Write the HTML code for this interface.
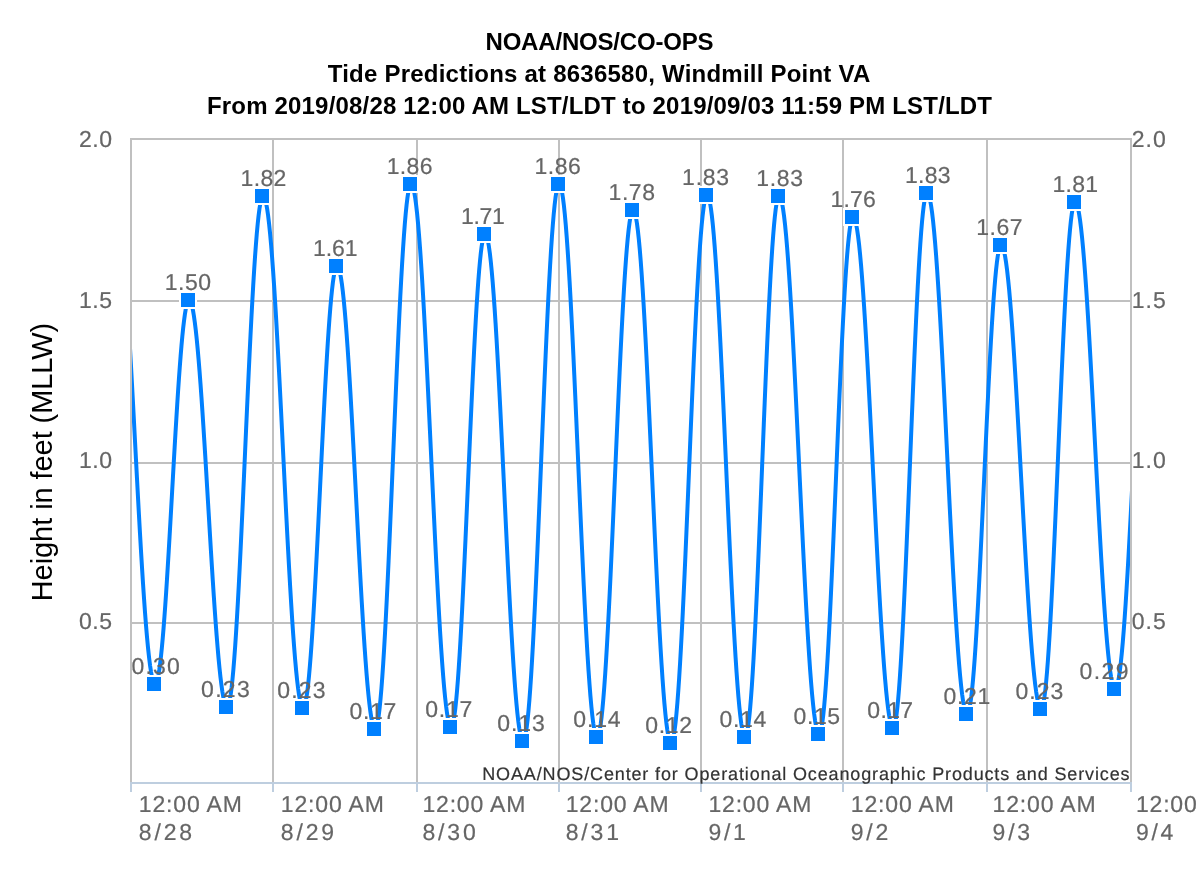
<!DOCTYPE html>
<html><head><meta charset="utf-8"><title>Tide Predictions</title>
<style>html,body{margin:0;padding:0;background:#fff;overflow:hidden;}svg{display:block;} svg{will-change:transform;}</style>
</head><body>
<svg width="1200" height="874" viewBox="0 0 1200 874">
<defs><clipPath id="pc"><rect x="132" y="100" width="998" height="700"/></clipPath></defs>
<rect width="1200" height="874" fill="#fff"/>
<rect x="130" y="138" width="1002" height="2" fill="#c0c0c0"/>
<rect x="130" y="300" width="1002" height="2" fill="#c0c0c0"/>
<rect x="130" y="462" width="1002" height="2" fill="#c0c0c0"/>
<rect x="130" y="622" width="1002" height="2" fill="#c0c0c0"/>
<rect x="130" y="138" width="2" height="644" fill="#c0c0c0"/>
<rect x="272" y="138" width="2" height="644" fill="#c0c0c0"/>
<rect x="416" y="138" width="2" height="644" fill="#c0c0c0"/>
<rect x="558" y="138" width="2" height="644" fill="#c0c0c0"/>
<rect x="700" y="138" width="2" height="644" fill="#c0c0c0"/>
<rect x="842" y="138" width="2" height="644" fill="#c0c0c0"/>
<rect x="986" y="138" width="2" height="644" fill="#c0c0c0"/>
<rect x="1130" y="138" width="2" height="644" fill="#c0c0c0"/>
<rect x="130" y="782" width="1002" height="2" fill="#becedf"/>
<rect x="130" y="782" width="2" height="10" fill="#becedf"/>
<rect x="272" y="782" width="2" height="10" fill="#becedf"/>
<rect x="416" y="782" width="2" height="10" fill="#becedf"/>
<rect x="558" y="782" width="2" height="10" fill="#becedf"/>
<rect x="700" y="782" width="2" height="10" fill="#becedf"/>
<rect x="842" y="782" width="2" height="10" fill="#becedf"/>
<rect x="986" y="782" width="2" height="10" fill="#becedf"/>
<rect x="1130" y="782" width="2" height="10" fill="#becedf"/>
<g font-family="Liberation Sans, sans-serif" font-weight="bold" font-size="24" fill="#000" text-anchor="middle">
<text x="599.5" y="50" textLength="228" lengthAdjust="spacing">NOAA/NOS/CO-OPS</text>
<text x="599" y="82" textLength="542.5" lengthAdjust="spacing">Tide Predictions at 8636580, Windmill Point VA</text>
<text x="599.5" y="114" textLength="785" lengthAdjust="spacing">From 2019/08/28 12:00 AM LST/LDT to 2019/09/03 11:59 PM LST/LDT</text>
</g>
<text x="0" y="0" transform="translate(52,462) rotate(-90)" font-family="Liberation Sans, sans-serif" font-size="29" fill="#000" text-anchor="middle" textLength="278.5" lengthAdjust="spacing">Height in feet (MLLW)</text>
<g font-family="Liberation Sans, sans-serif" font-size="23" fill="#666666" stroke="#666666" stroke-width="0.2" text-rendering="geometricPrecision">
<text x="112" y="147" text-anchor="end" textLength="33" lengthAdjust="spacing">2.0</text>
<text x="1131.8" y="147" textLength="34" lengthAdjust="spacing">2.0</text>
<text x="112" y="308" text-anchor="end" textLength="33" lengthAdjust="spacing">1.5</text>
<text x="1131.8" y="308" textLength="34" lengthAdjust="spacing">1.5</text>
<text x="112" y="468" text-anchor="end" textLength="33" lengthAdjust="spacing">1.0</text>
<text x="1131.8" y="468" textLength="34" lengthAdjust="spacing">1.0</text>
<text x="112" y="629" text-anchor="end" textLength="33" lengthAdjust="spacing">0.5</text>
<text x="1131.8" y="629" textLength="34" lengthAdjust="spacing">0.5</text>
</g>
<g font-family="Liberation Sans, sans-serif" font-size="23" fill="#666666" stroke="#666666" stroke-width="0.2" text-rendering="geometricPrecision">
<text x="138.8" y="812" textLength="103" lengthAdjust="spacing">12:00 AM</text>
<text x="138.8" y="840" textLength="53.3" lengthAdjust="spacing">8/28</text>
<text x="280.8" y="812" textLength="103" lengthAdjust="spacing">12:00 AM</text>
<text x="280.8" y="840" textLength="53.3" lengthAdjust="spacing">8/29</text>
<text x="422.4" y="812" textLength="103" lengthAdjust="spacing">12:00 AM</text>
<text x="422.4" y="840" textLength="53.3" lengthAdjust="spacing">8/30</text>
<text x="565.7" y="812" textLength="103" lengthAdjust="spacing">12:00 AM</text>
<text x="565.7" y="840" textLength="53.3" lengthAdjust="spacing">8/31</text>
<text x="708.4" y="812" textLength="103" lengthAdjust="spacing">12:00 AM</text>
<text x="708.4" y="840" textLength="37.5" lengthAdjust="spacing">9/1</text>
<text x="850.8" y="812" textLength="103" lengthAdjust="spacing">12:00 AM</text>
<text x="850.8" y="840" textLength="37.5" lengthAdjust="spacing">9/2</text>
<text x="992.6" y="812" textLength="103" lengthAdjust="spacing">12:00 AM</text>
<text x="992.6" y="840" textLength="37.5" lengthAdjust="spacing">9/3</text>
<text x="1135.9" y="812" textLength="103" lengthAdjust="spacing">12:00 AM</text>
<text x="1135.9" y="840" textLength="37.5" lengthAdjust="spacing">9/4</text>
</g>
<text x="1129.5" y="780" text-anchor="end" font-family="Liberation Sans, sans-serif" font-size="18" fill="#333333" stroke="#333333" stroke-width="0.2" textLength="647.3" lengthAdjust="spacing" text-rendering="geometricPrecision">NOAA/NOS/Center for Operational Oceanographic Products and Services</text>
<path d="M114.80 196.00 L115.81 196.75 L116.81 199.00 L117.82 202.74 L118.83 207.94 L119.84 214.57 L120.84 222.59 L121.85 231.96 L122.86 242.60 L123.87 254.46 L124.88 267.47 L125.88 281.53 L126.89 296.58 L127.90 312.51 L128.91 329.23 L129.91 346.63 L130.92 364.60 L131.93 383.04 L132.94 401.83 L133.94 420.86 L134.95 440.00 L135.96 459.14 L136.97 478.17 L137.97 496.96 L138.98 515.40 L139.99 533.37 L141.00 550.77 L142.00 567.49 L143.01 583.42 L144.02 598.47 L145.03 612.53 L146.03 625.54 L147.04 637.40 L148.05 648.04 L149.06 657.41 L150.06 665.43 L151.07 672.06 L152.08 677.26 L153.08 681.00 L154.09 683.25 L155.10 684.00 L155.95 683.41 L156.80 681.64 L157.65 678.70 L158.50 674.60 L159.35 669.38 L160.20 663.07 L161.05 655.71 L161.90 647.33 L162.75 638.00 L163.60 627.76 L164.45 616.69 L165.30 604.85 L166.15 592.32 L167.00 579.17 L167.85 565.48 L168.70 551.33 L169.55 536.82 L170.40 522.04 L171.25 507.06 L172.10 492.00 L172.95 476.94 L173.80 461.96 L174.65 447.18 L175.50 432.67 L176.35 418.52 L177.20 404.83 L178.05 391.68 L178.90 379.15 L179.75 367.31 L180.60 356.24 L181.45 346.00 L182.30 336.67 L183.15 328.29 L184.00 320.93 L184.85 314.62 L185.70 309.40 L186.55 305.30 L187.40 302.36 L188.25 300.59 L189.10 300.00 L190.05 300.63 L191.00 302.51 L191.95 305.62 L192.90 309.96 L193.85 315.49 L194.80 322.18 L195.75 329.99 L196.70 338.87 L197.65 348.76 L198.60 359.60 L199.55 371.34 L200.50 383.89 L201.45 397.17 L202.40 411.11 L203.35 425.62 L204.30 440.62 L205.25 455.99 L206.20 471.67 L207.15 487.53 L208.10 503.50 L209.05 519.47 L210.00 535.33 L210.95 551.01 L211.90 566.38 L212.85 581.38 L213.80 595.89 L214.75 609.83 L215.70 623.11 L216.65 635.66 L217.60 647.40 L218.55 658.24 L219.50 668.13 L220.45 677.01 L221.40 684.82 L222.35 691.51 L223.30 697.04 L224.25 701.38 L225.20 704.49 L226.15 706.37 L227.10 707.00 L228.00 706.21 L228.90 703.85 L229.80 699.94 L230.70 694.49 L231.60 687.55 L232.50 679.15 L233.40 669.35 L234.30 658.20 L235.20 645.78 L236.10 632.17 L237.00 617.43 L237.90 601.68 L238.80 585.00 L239.70 567.49 L240.60 549.28 L241.50 530.45 L242.40 511.15 L243.30 491.47 L244.20 471.55 L245.10 451.50 L246.00 431.45 L246.90 411.53 L247.80 391.85 L248.70 372.55 L249.60 353.72 L250.50 335.51 L251.40 318.00 L252.30 301.32 L253.20 285.57 L254.10 270.83 L255.00 257.22 L255.90 244.80 L256.80 233.65 L257.70 223.85 L258.60 215.45 L259.50 208.51 L260.40 203.06 L261.30 199.15 L262.20 196.79 L263.10 196.00 L264.10 196.79 L265.10 199.15 L266.10 203.07 L267.10 208.53 L268.10 215.49 L269.10 223.90 L270.10 233.72 L271.10 244.89 L272.10 257.34 L273.10 270.98 L274.10 285.74 L275.10 301.53 L276.10 318.24 L277.10 335.78 L278.10 354.03 L279.10 372.89 L280.10 392.24 L281.10 411.95 L282.10 431.91 L283.10 452.00 L284.10 472.09 L285.10 492.05 L286.10 511.76 L287.10 531.11 L288.10 549.97 L289.10 568.22 L290.10 585.76 L291.10 602.47 L292.10 618.26 L293.10 633.02 L294.10 646.66 L295.10 659.11 L296.10 670.28 L297.10 680.10 L298.10 688.51 L299.10 695.47 L300.10 700.93 L301.10 704.85 L302.10 707.21 L303.10 708.00 L303.95 707.32 L304.80 705.28 L305.65 701.89 L306.50 697.18 L307.35 691.18 L308.20 683.91 L309.05 675.43 L309.90 665.79 L310.75 655.05 L311.60 643.27 L312.45 630.53 L313.30 616.90 L314.15 602.47 L315.00 587.33 L315.85 571.57 L316.70 555.29 L317.55 538.59 L318.40 521.57 L319.25 504.34 L320.10 487.00 L320.95 469.66 L321.80 452.43 L322.65 435.41 L323.50 418.71 L324.35 402.43 L325.20 386.67 L326.05 371.53 L326.90 357.10 L327.75 343.47 L328.60 330.73 L329.45 318.95 L330.30 308.21 L331.15 298.57 L332.00 290.09 L332.85 282.82 L333.70 276.82 L334.55 272.11 L335.40 268.72 L336.25 266.68 L337.10 266.00 L338.05 266.71 L339.00 268.85 L339.95 272.40 L340.90 277.33 L341.85 283.62 L342.80 291.23 L343.75 300.11 L344.70 310.21 L345.65 321.47 L346.60 333.80 L347.55 347.15 L348.50 361.43 L349.45 376.54 L350.40 392.40 L351.35 408.91 L352.30 425.96 L353.25 443.46 L354.20 461.29 L355.15 479.34 L356.10 497.50 L357.05 515.66 L358.00 533.71 L358.95 551.54 L359.90 569.04 L360.85 586.09 L361.80 602.60 L362.75 618.46 L363.70 633.57 L364.65 647.85 L365.60 661.20 L366.55 673.53 L367.50 684.79 L368.45 694.89 L369.40 703.77 L370.35 711.38 L371.30 717.67 L372.25 722.60 L373.20 726.15 L374.15 728.29 L375.10 729.00 L376.00 728.16 L376.90 725.65 L377.80 721.47 L378.70 715.66 L379.60 708.26 L380.50 699.30 L381.40 688.84 L382.30 676.96 L383.20 663.71 L384.10 649.19 L385.00 633.47 L385.90 616.67 L386.80 598.88 L387.70 580.21 L388.60 560.78 L389.50 540.71 L390.40 520.11 L391.30 499.13 L392.20 477.88 L393.10 456.50 L394.00 435.12 L394.90 413.87 L395.80 392.89 L396.70 372.29 L397.60 352.22 L398.50 332.79 L399.40 314.12 L400.30 296.33 L401.20 279.53 L402.10 263.81 L403.00 249.29 L403.90 236.04 L404.80 224.16 L405.70 213.70 L406.60 204.74 L407.50 197.34 L408.40 191.53 L409.30 187.35 L410.20 184.84 L411.10 184.00 L412.10 184.84 L413.10 187.34 L414.10 191.50 L415.10 197.29 L416.10 204.67 L417.10 213.59 L418.10 224.01 L419.10 235.85 L420.10 249.05 L421.10 263.52 L422.10 279.17 L423.10 295.92 L424.10 313.64 L425.10 332.24 L426.10 351.60 L427.10 371.60 L428.10 392.12 L429.10 413.03 L430.10 434.20 L431.10 455.50 L432.10 476.80 L433.10 497.97 L434.10 518.88 L435.10 539.40 L436.10 559.40 L437.10 578.76 L438.10 597.36 L439.10 615.08 L440.10 631.83 L441.10 647.48 L442.10 661.95 L443.10 675.15 L444.10 686.99 L445.10 697.41 L446.10 706.33 L447.10 713.71 L448.10 719.50 L449.10 723.66 L450.10 726.16 L451.10 727.00 L451.95 726.24 L452.80 723.97 L453.65 720.19 L454.50 714.94 L455.35 708.24 L456.20 700.13 L457.05 690.68 L457.90 679.92 L458.75 667.94 L459.60 654.80 L460.45 640.59 L461.30 625.39 L462.15 609.30 L463.00 592.41 L463.85 574.83 L464.70 556.67 L465.55 538.04 L466.40 519.06 L467.25 499.84 L468.10 480.50 L468.95 461.16 L469.80 441.94 L470.65 422.96 L471.50 404.33 L472.35 386.17 L473.20 368.59 L474.05 351.70 L474.90 335.61 L475.75 320.41 L476.60 306.20 L477.45 293.06 L478.30 281.08 L479.15 270.32 L480.00 260.87 L480.85 252.76 L481.70 246.06 L482.55 240.81 L483.40 237.03 L484.25 234.76 L485.10 234.00 L486.05 234.78 L487.00 237.12 L487.95 241.00 L488.90 246.41 L489.85 253.30 L490.80 261.63 L491.75 271.36 L492.70 282.41 L493.65 294.74 L494.60 308.25 L495.55 322.86 L496.50 338.50 L497.45 355.05 L498.40 372.41 L499.35 390.49 L500.30 409.16 L501.25 428.32 L502.20 447.84 L503.15 467.61 L504.10 487.50 L505.05 507.39 L506.00 527.16 L506.95 546.68 L507.90 565.84 L508.85 584.51 L509.80 602.59 L510.75 619.95 L511.70 636.50 L512.65 652.14 L513.60 666.75 L514.55 680.26 L515.50 692.59 L516.45 703.64 L517.40 713.37 L518.35 721.70 L519.30 728.59 L520.25 734.00 L521.20 737.88 L522.15 740.22 L523.10 741.00 L524.00 740.14 L524.90 737.57 L525.80 733.31 L526.70 727.37 L527.60 719.80 L528.50 710.65 L529.40 699.96 L530.30 687.81 L531.20 674.27 L532.10 659.43 L533.00 643.37 L533.90 626.20 L534.80 608.02 L535.70 588.94 L536.60 569.08 L537.50 548.56 L538.40 527.51 L539.30 506.07 L540.20 484.35 L541.10 462.50 L542.00 440.65 L542.90 418.93 L543.80 397.49 L544.70 376.44 L545.60 355.92 L546.50 336.06 L547.40 316.98 L548.30 298.80 L549.20 281.63 L550.10 265.57 L551.00 250.73 L551.90 237.19 L552.80 225.04 L553.70 214.35 L554.60 205.20 L555.50 197.63 L556.40 191.69 L557.30 187.43 L558.20 184.86 L559.10 184.00 L560.05 184.85 L561.00 187.40 L561.95 191.64 L562.90 197.53 L563.85 205.05 L564.80 214.14 L565.75 224.74 L566.70 236.81 L567.65 250.25 L568.60 264.98 L569.55 280.93 L570.50 297.98 L571.45 316.03 L572.40 334.97 L573.35 354.69 L574.30 375.06 L575.25 395.95 L576.20 417.25 L577.15 438.81 L578.10 460.50 L579.05 482.19 L580.00 503.75 L580.95 525.05 L581.90 545.94 L582.85 566.31 L583.80 586.03 L584.75 604.97 L585.70 623.02 L586.65 640.07 L587.60 656.02 L588.55 670.75 L589.50 684.19 L590.45 696.26 L591.40 706.86 L592.35 715.95 L593.30 723.47 L594.25 729.36 L595.20 733.60 L596.15 736.15 L597.10 737.00 L598.00 736.19 L598.90 733.76 L599.80 729.72 L600.70 724.10 L601.60 716.94 L602.50 708.28 L603.40 698.17 L604.30 686.68 L605.20 673.87 L606.10 659.82 L607.00 644.63 L607.90 628.38 L608.80 611.18 L609.70 593.13 L610.60 574.34 L611.50 554.93 L612.40 535.01 L613.30 514.72 L614.20 494.17 L615.10 473.50 L616.00 452.83 L616.90 432.28 L617.80 411.99 L618.70 392.07 L619.60 372.66 L620.50 353.87 L621.40 335.82 L622.30 318.62 L623.20 302.37 L624.10 287.18 L625.00 273.13 L625.90 260.32 L626.80 248.83 L627.70 238.72 L628.60 230.06 L629.50 222.90 L630.40 217.28 L631.30 213.24 L632.20 210.81 L633.10 210.00 L634.05 210.82 L635.00 213.28 L635.95 217.36 L636.90 223.04 L637.85 230.29 L638.80 239.05 L639.75 249.27 L640.70 260.90 L641.65 273.85 L642.60 288.06 L643.55 303.42 L644.50 319.86 L645.45 337.25 L646.40 355.51 L647.35 374.51 L648.30 394.15 L649.25 414.29 L650.20 434.81 L651.15 455.59 L652.10 476.50 L653.05 497.41 L654.00 518.19 L654.95 538.71 L655.90 558.85 L656.85 578.49 L657.80 597.49 L658.75 615.75 L659.70 633.14 L660.65 649.58 L661.60 664.94 L662.55 679.15 L663.50 692.10 L664.45 703.73 L665.40 713.95 L666.35 722.71 L667.30 729.96 L668.25 735.64 L669.20 739.72 L670.15 742.18 L671.10 743.00 L672.00 742.16 L672.90 739.63 L673.80 735.43 L674.70 729.59 L675.60 722.14 L676.50 713.14 L677.40 702.62 L678.30 690.67 L679.20 677.35 L680.10 662.75 L681.00 646.95 L681.90 630.05 L682.80 612.16 L683.70 593.39 L684.60 573.86 L685.50 553.67 L686.40 532.96 L687.30 511.86 L688.20 490.50 L689.10 469.00 L690.00 447.50 L690.90 426.14 L691.80 405.04 L692.70 384.33 L693.60 364.14 L694.50 344.61 L695.40 325.84 L696.30 307.95 L697.20 291.05 L698.10 275.25 L699.00 260.65 L699.90 247.33 L700.80 235.38 L701.70 224.86 L702.60 215.86 L703.50 208.41 L704.40 202.57 L705.30 198.37 L706.20 195.84 L707.10 195.00 L708.05 195.84 L709.00 198.34 L709.95 202.49 L710.90 208.26 L711.85 215.63 L712.80 224.54 L713.75 234.93 L714.70 246.76 L715.65 259.93 L716.60 274.37 L717.55 290.00 L718.50 306.71 L719.45 324.40 L720.40 342.97 L721.35 362.29 L722.30 382.26 L723.25 402.74 L724.20 423.61 L725.15 444.74 L726.10 466.00 L727.05 487.26 L728.00 508.39 L728.95 529.26 L729.90 549.74 L730.85 569.71 L731.80 589.03 L732.75 607.60 L733.70 625.29 L734.65 642.00 L735.60 657.63 L736.55 672.07 L737.50 685.24 L738.45 697.07 L739.40 707.46 L740.35 716.37 L741.30 723.74 L742.25 729.51 L743.20 733.66 L744.15 736.16 L745.10 737.00 L745.95 736.17 L746.80 733.67 L747.65 729.53 L748.50 723.76 L749.35 716.41 L750.20 707.52 L751.05 697.14 L751.90 685.34 L752.75 672.19 L753.60 657.77 L754.45 642.18 L755.30 625.50 L756.15 607.84 L757.00 589.30 L757.85 570.02 L758.70 550.09 L759.55 529.65 L760.40 508.82 L761.25 487.72 L762.10 466.50 L762.95 445.28 L763.80 424.18 L764.65 403.35 L765.50 382.91 L766.35 362.98 L767.20 343.70 L768.05 325.16 L768.90 307.50 L769.75 290.82 L770.60 275.23 L771.45 260.81 L772.30 247.66 L773.15 235.86 L774.00 225.48 L774.85 216.59 L775.70 209.24 L776.55 203.47 L777.40 199.33 L778.25 196.83 L779.10 196.00 L780.10 196.83 L781.10 199.31 L782.10 203.43 L783.10 209.17 L784.10 216.48 L785.10 225.32 L786.10 235.64 L787.10 247.37 L788.10 260.45 L789.10 274.79 L790.10 290.30 L791.10 306.89 L792.10 324.45 L793.10 342.88 L794.10 362.06 L795.10 381.87 L796.10 402.20 L797.10 422.92 L798.10 443.89 L799.10 465.00 L800.10 486.11 L801.10 507.08 L802.10 527.80 L803.10 548.13 L804.10 567.94 L805.10 587.12 L806.10 605.55 L807.10 623.11 L808.10 639.70 L809.10 655.21 L810.10 669.55 L811.10 682.63 L812.10 694.36 L813.10 704.68 L814.10 713.52 L815.10 720.83 L816.10 726.57 L817.10 730.69 L818.10 733.17 L819.10 734.00 L819.95 733.20 L820.80 730.82 L821.65 726.86 L822.50 721.35 L823.35 714.32 L824.20 705.83 L825.05 695.91 L825.90 684.63 L826.75 672.06 L827.60 658.29 L828.45 643.38 L829.30 627.44 L830.15 610.57 L831.00 592.86 L831.85 574.42 L832.70 555.38 L833.55 535.85 L834.40 515.94 L835.25 495.78 L836.10 475.50 L836.95 455.22 L837.80 435.06 L838.65 415.15 L839.50 395.62 L840.35 376.58 L841.20 358.14 L842.05 340.43 L842.90 323.56 L843.75 307.62 L844.60 292.71 L845.45 278.94 L846.30 266.37 L847.15 255.09 L848.00 245.17 L848.85 236.68 L849.70 229.65 L850.55 224.14 L851.40 220.18 L852.25 217.80 L853.10 217.00 L854.10 217.79 L855.10 220.15 L856.10 224.06 L857.10 229.51 L858.10 236.45 L859.10 244.85 L860.10 254.65 L861.10 265.80 L862.10 278.22 L863.10 291.83 L864.10 306.57 L865.10 322.32 L866.10 339.00 L867.10 356.51 L868.10 374.72 L869.10 393.55 L870.10 412.85 L871.10 432.53 L872.10 452.45 L873.10 472.50 L874.10 492.55 L875.10 512.47 L876.10 532.15 L877.10 551.45 L878.10 570.28 L879.10 588.49 L880.10 606.00 L881.10 622.68 L882.10 638.43 L883.10 653.17 L884.10 666.78 L885.10 679.20 L886.10 690.35 L887.10 700.15 L888.10 708.55 L889.10 715.49 L890.10 720.94 L891.10 724.85 L892.10 727.21 L893.10 728.00 L893.95 727.18 L894.80 724.71 L895.65 720.61 L896.50 714.91 L897.35 707.64 L898.20 698.84 L899.05 688.58 L899.90 676.91 L900.75 663.91 L901.60 649.65 L902.45 634.23 L903.30 617.73 L904.15 600.27 L905.00 581.94 L905.85 562.87 L906.70 543.16 L907.55 522.95 L908.40 502.35 L909.25 481.49 L910.10 460.50 L910.95 439.51 L911.80 418.65 L912.65 398.05 L913.50 377.84 L914.35 358.13 L915.20 339.06 L916.05 320.73 L916.90 303.27 L917.75 286.77 L918.60 271.35 L919.45 257.09 L920.30 244.09 L921.15 232.42 L922.00 222.16 L922.85 213.36 L923.70 206.09 L924.55 200.39 L925.40 196.29 L926.25 193.82 L927.10 193.00 L928.10 193.80 L929.10 196.21 L930.10 200.20 L931.10 205.75 L932.10 212.83 L933.10 221.39 L934.10 231.39 L935.10 242.75 L936.10 255.41 L937.10 269.30 L938.10 284.32 L939.10 300.38 L940.10 317.39 L941.10 335.24 L942.10 353.81 L943.10 373.00 L944.10 392.69 L945.10 412.75 L946.10 433.06 L947.10 453.50 L948.10 473.94 L949.10 494.25 L950.10 514.31 L951.10 534.00 L952.10 553.19 L953.10 571.76 L954.10 589.61 L955.10 606.62 L956.10 622.68 L957.10 637.70 L958.10 651.59 L959.10 664.25 L960.10 675.61 L961.10 685.61 L962.10 694.17 L963.10 701.25 L964.10 706.80 L965.10 710.79 L966.10 713.20 L967.10 714.00 L967.95 713.28 L968.80 711.11 L969.65 707.52 L970.50 702.52 L971.35 696.15 L972.20 688.44 L973.05 679.44 L973.90 669.21 L974.75 657.82 L975.60 645.32 L976.45 631.80 L977.30 617.34 L978.15 602.03 L979.00 585.96 L979.85 569.24 L980.70 551.96 L981.55 534.24 L982.40 516.18 L983.25 497.90 L984.10 479.50 L984.95 461.10 L985.80 442.82 L986.65 424.76 L987.50 407.04 L988.35 389.76 L989.20 373.04 L990.05 356.97 L990.90 341.66 L991.75 327.20 L992.60 313.68 L993.45 301.18 L994.30 289.79 L995.15 279.56 L996.00 270.56 L996.85 262.85 L997.70 256.48 L998.55 251.48 L999.40 247.89 L1000.25 245.72 L1001.10 245.00 L1002.10 245.72 L1003.10 247.86 L1004.10 251.41 L1005.10 256.35 L1006.10 262.66 L1007.10 270.29 L1008.10 279.19 L1009.10 289.31 L1010.10 300.59 L1011.10 312.95 L1012.10 326.33 L1013.10 340.63 L1014.10 355.78 L1015.10 371.67 L1016.10 388.22 L1017.10 405.31 L1018.10 422.84 L1019.10 440.71 L1020.10 458.80 L1021.10 477.00 L1022.10 495.20 L1023.10 513.29 L1024.10 531.16 L1025.10 548.69 L1026.10 565.78 L1027.10 582.33 L1028.10 598.22 L1029.10 613.37 L1030.10 627.67 L1031.10 641.05 L1032.10 653.41 L1033.10 664.69 L1034.10 674.81 L1035.10 683.71 L1036.10 691.34 L1037.10 697.65 L1038.10 702.59 L1039.10 706.14 L1040.10 708.28 L1041.10 709.00 L1041.95 708.22 L1042.80 705.88 L1043.65 702.00 L1044.50 696.59 L1045.35 689.70 L1046.20 681.37 L1047.05 671.64 L1047.90 660.59 L1048.75 648.26 L1049.60 634.75 L1050.45 620.14 L1051.30 604.50 L1052.15 587.95 L1053.00 570.59 L1053.85 552.51 L1054.70 533.84 L1055.55 514.68 L1056.40 495.16 L1057.25 475.39 L1058.10 455.50 L1058.95 435.61 L1059.80 415.84 L1060.65 396.32 L1061.50 377.16 L1062.35 358.49 L1063.20 340.41 L1064.05 323.05 L1064.90 306.50 L1065.75 290.86 L1066.60 276.25 L1067.45 262.74 L1068.30 250.41 L1069.15 239.36 L1070.00 229.63 L1070.85 221.30 L1071.70 214.41 L1072.55 209.00 L1073.40 205.12 L1074.25 202.78 L1075.10 202.00 L1076.10 202.75 L1077.10 205.00 L1078.10 208.73 L1079.10 213.92 L1080.10 220.54 L1081.10 228.54 L1082.10 237.88 L1083.10 248.50 L1084.10 260.34 L1085.10 273.32 L1086.10 287.36 L1087.10 302.37 L1088.10 318.27 L1089.10 334.95 L1090.10 352.32 L1091.10 370.25 L1092.10 388.66 L1093.10 407.41 L1094.10 426.40 L1095.10 445.50 L1096.10 464.60 L1097.10 483.59 L1098.10 502.34 L1099.10 520.75 L1100.10 538.68 L1101.10 556.05 L1102.10 572.73 L1103.10 588.63 L1104.10 603.64 L1105.10 617.68 L1106.10 630.66 L1107.10 642.50 L1108.10 653.12 L1109.10 662.46 L1110.10 670.46 L1111.10 677.08 L1112.10 682.27 L1113.10 686.00 L1114.10 688.25 L1115.10 689.00 L1116.06 688.25 L1117.02 685.99 L1117.98 682.24 L1118.94 677.03 L1119.90 670.39 L1120.86 662.35 L1121.82 652.97 L1122.78 642.30 L1123.74 630.42 L1124.70 617.39 L1125.66 603.29 L1126.62 588.21 L1127.58 572.25 L1128.54 555.50 L1129.50 538.07 L1130.46 520.05 L1131.42 501.58 L1132.38 482.75 L1133.34 463.68 L1134.30 444.50 L1135.26 425.32 L1136.22 406.25 L1137.18 387.42 L1138.14 368.95 L1139.10 350.93 L1140.06 333.50 L1141.02 316.75 L1141.98 300.79 L1142.94 285.71 L1143.90 271.61 L1144.86 258.58 L1145.82 246.70 L1146.78 236.03 L1147.74 226.65 L1148.70 218.61 L1149.66 211.97 L1150.62 206.76 L1151.58 203.01 L1152.54 200.75 L1153.50 200.00" fill="none" stroke="#0080ff" stroke-width="4" stroke-linejoin="round" clip-path="url(#pc)"/>
<rect x="145" y="675" width="18" height="18" fill="#fff"/>
<rect x="147" y="677" width="14" height="14" fill="#0080ff"/>
<rect x="179" y="291" width="18" height="18" fill="#fff"/>
<rect x="181" y="293" width="14" height="14" fill="#0080ff"/>
<rect x="217" y="698" width="18" height="18" fill="#fff"/>
<rect x="219" y="700" width="14" height="14" fill="#0080ff"/>
<rect x="253" y="187" width="18" height="18" fill="#fff"/>
<rect x="255" y="189" width="14" height="14" fill="#0080ff"/>
<rect x="293" y="699" width="18" height="18" fill="#fff"/>
<rect x="295" y="701" width="14" height="14" fill="#0080ff"/>
<rect x="327" y="257" width="18" height="18" fill="#fff"/>
<rect x="329" y="259" width="14" height="14" fill="#0080ff"/>
<rect x="365" y="720" width="18" height="18" fill="#fff"/>
<rect x="367" y="722" width="14" height="14" fill="#0080ff"/>
<rect x="401" y="175" width="18" height="18" fill="#fff"/>
<rect x="403" y="177" width="14" height="14" fill="#0080ff"/>
<rect x="441" y="718" width="18" height="18" fill="#fff"/>
<rect x="443" y="720" width="14" height="14" fill="#0080ff"/>
<rect x="475" y="225" width="18" height="18" fill="#fff"/>
<rect x="477" y="227" width="14" height="14" fill="#0080ff"/>
<rect x="513" y="732" width="18" height="18" fill="#fff"/>
<rect x="515" y="734" width="14" height="14" fill="#0080ff"/>
<rect x="549" y="175" width="18" height="18" fill="#fff"/>
<rect x="551" y="177" width="14" height="14" fill="#0080ff"/>
<rect x="587" y="728" width="18" height="18" fill="#fff"/>
<rect x="589" y="730" width="14" height="14" fill="#0080ff"/>
<rect x="623" y="201" width="18" height="18" fill="#fff"/>
<rect x="625" y="203" width="14" height="14" fill="#0080ff"/>
<rect x="661" y="734" width="18" height="18" fill="#fff"/>
<rect x="663" y="736" width="14" height="14" fill="#0080ff"/>
<rect x="697" y="186" width="18" height="18" fill="#fff"/>
<rect x="699" y="188" width="14" height="14" fill="#0080ff"/>
<rect x="735" y="728" width="18" height="18" fill="#fff"/>
<rect x="737" y="730" width="14" height="14" fill="#0080ff"/>
<rect x="769" y="187" width="18" height="18" fill="#fff"/>
<rect x="771" y="189" width="14" height="14" fill="#0080ff"/>
<rect x="809" y="725" width="18" height="18" fill="#fff"/>
<rect x="811" y="727" width="14" height="14" fill="#0080ff"/>
<rect x="843" y="208" width="18" height="18" fill="#fff"/>
<rect x="845" y="210" width="14" height="14" fill="#0080ff"/>
<rect x="883" y="719" width="18" height="18" fill="#fff"/>
<rect x="885" y="721" width="14" height="14" fill="#0080ff"/>
<rect x="917" y="184" width="18" height="18" fill="#fff"/>
<rect x="919" y="186" width="14" height="14" fill="#0080ff"/>
<rect x="957" y="705" width="18" height="18" fill="#fff"/>
<rect x="959" y="707" width="14" height="14" fill="#0080ff"/>
<rect x="991" y="236" width="18" height="18" fill="#fff"/>
<rect x="993" y="238" width="14" height="14" fill="#0080ff"/>
<rect x="1031" y="700" width="18" height="18" fill="#fff"/>
<rect x="1033" y="702" width="14" height="14" fill="#0080ff"/>
<rect x="1065" y="193" width="18" height="18" fill="#fff"/>
<rect x="1067" y="195" width="14" height="14" fill="#0080ff"/>
<rect x="1105" y="680" width="18" height="18" fill="#fff"/>
<rect x="1107" y="682" width="14" height="14" fill="#0080ff"/>
<g font-family="Liberation Sans, sans-serif" font-size="23" text-rendering="geometricPrecision" fill="#666666" stroke="#666666" stroke-width="0.2" text-anchor="middle">
<text x="155.60" y="674" textLength="48.20" lengthAdjust="spacing">0.30</text>
<text x="187.90" y="290" textLength="46.50" lengthAdjust="spacing">1.50</text>
<text x="225.40" y="697" textLength="48.60" lengthAdjust="spacing">0.23</text>
<text x="263.45" y="186" textLength="45.80" lengthAdjust="spacing">1.82</text>
<text x="301.45" y="698" textLength="48.30" lengthAdjust="spacing">0.23</text>
<text x="335.25" y="256" textLength="44.40" lengthAdjust="spacing">1.61</text>
<text x="372.90" y="719" textLength="47.00" lengthAdjust="spacing">0.17</text>
<text x="409.55" y="174" textLength="45.80" lengthAdjust="spacing">1.86</text>
<text x="448.75" y="717" textLength="46.90" lengthAdjust="spacing">0.17</text>
<text x="482.90" y="224" textLength="43.70" lengthAdjust="spacing">1.71</text>
<text x="521.00" y="731" textLength="47.40" lengthAdjust="spacing">0.13</text>
<text x="557.70" y="174" textLength="46.30" lengthAdjust="spacing">1.86</text>
<text x="596.95" y="727" textLength="47.30" lengthAdjust="spacing">0.14</text>
<text x="631.75" y="200" textLength="46.40" lengthAdjust="spacing">1.78</text>
<text x="668.73" y="733" textLength="46.85" lengthAdjust="spacing">0.12</text>
<text x="705.62" y="185" textLength="47.05" lengthAdjust="spacing">1.83</text>
<text x="742.90" y="727" textLength="47.00" lengthAdjust="spacing">0.14</text>
<text x="779.65" y="186" textLength="46.60" lengthAdjust="spacing">1.83</text>
<text x="816.85" y="724" textLength="46.50" lengthAdjust="spacing">0.15</text>
<text x="853.20" y="207" textLength="45.30" lengthAdjust="spacing">1.76</text>
<text x="890.20" y="718" textLength="45.80" lengthAdjust="spacing">0.17</text>
<text x="927.85" y="183" textLength="45.60" lengthAdjust="spacing">1.83</text>
<text x="966.90" y="704" textLength="46.80" lengthAdjust="spacing">0.21</text>
<text x="999.40" y="235" textLength="46.10" lengthAdjust="spacing">1.67</text>
<text x="1039.45" y="699" textLength="47.90" lengthAdjust="spacing">0.23</text>
<text x="1075.25" y="192" textLength="45.40" lengthAdjust="spacing">1.81</text>
<text x="1104.08" y="679" textLength="49.15" lengthAdjust="spacing">0.29</text>
</g>
</svg>
</body></html>
